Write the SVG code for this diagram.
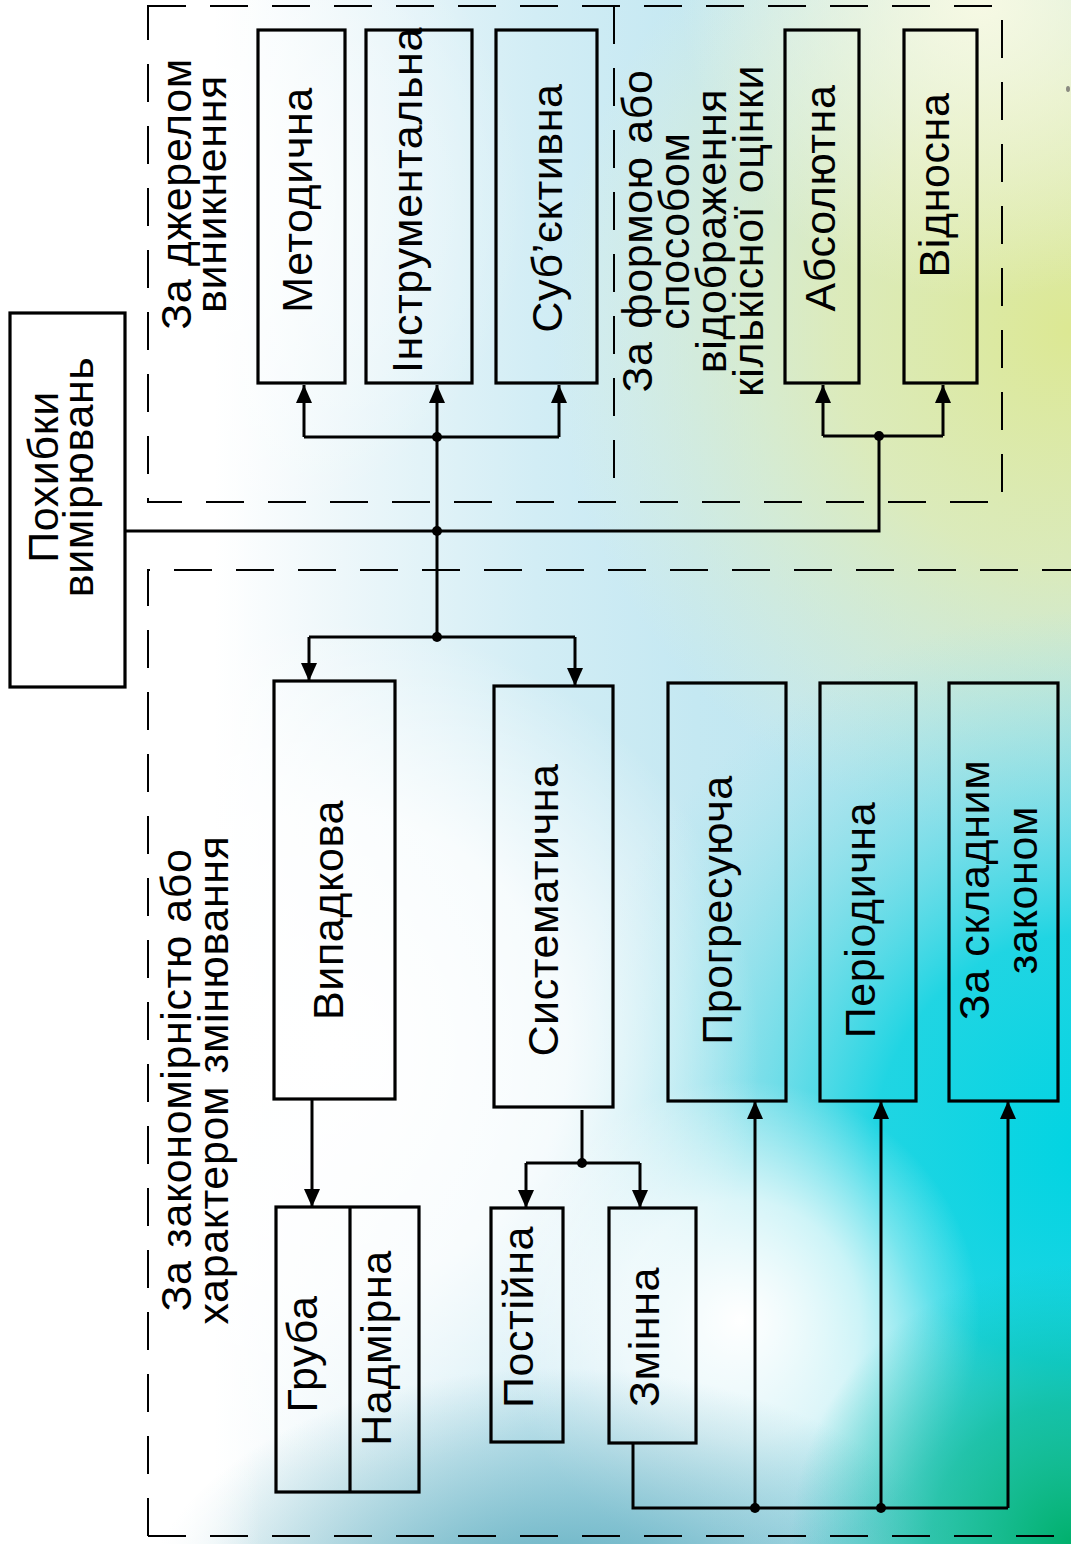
<svg xmlns="http://www.w3.org/2000/svg" width="1071" height="1544" viewBox="0 0 1071 1544">
  <defs>
    <style>
      .box { fill: none; stroke: #000; stroke-width: 3.2; }
      .wire { fill: none; stroke: #000; stroke-width: 3; }
      .arrow { fill: none; stroke: #000; stroke-width: 3; marker-end: url(#head); }
      .dash { fill: none; stroke: #000; stroke-width: 2; stroke-dasharray: 38 24; }
      .dot { fill: #000; }
      .lbl { font-family: "Liberation Sans", Arial, "Noto Sans", sans-serif; font-size: 43px; letter-spacing: 0.6px; fill: #000; }
    </style>
    <marker id="head" markerUnits="userSpaceOnUse" markerWidth="18" markerHeight="16" viewBox="0 0 18 16" refX="18" refY="8" orient="auto">
      <path d="M0,0 L18,8 L0,16 z" fill="#000"/>
    </marker>
    <linearGradient id="bgBase" x1="0" y1="0" x2="1071" y2="0" gradientUnits="userSpaceOnUse">
      <stop offset="0" stop-color="#ffffff"/>
      <stop offset="0.2" stop-color="#ffffff"/>
      <stop offset="0.32" stop-color="#edf7fa"/>
      <stop offset="0.5" stop-color="#d2edf5"/>
      <stop offset="0.65" stop-color="#c4e8f2"/>
      <stop offset="1" stop-color="#b6e3ed"/>
    </linearGradient>
    <radialGradient id="bgYellow" cx="1071" cy="330" r="520" gradientUnits="userSpaceOnUse">
      <stop offset="0" stop-color="#dce893" stop-opacity="1"/>
      <stop offset="0.45" stop-color="#e4ecac" stop-opacity="0.78"/>
      <stop offset="1" stop-color="#eef3c8" stop-opacity="0"/>
    </radialGradient>
    <radialGradient id="bgPale" cx="980" cy="0" r="300" gradientUnits="userSpaceOnUse">
      <stop offset="0" stop-color="#fbfbe6" stop-opacity="0.9"/>
      <stop offset="1" stop-color="#fbfbe6" stop-opacity="0"/>
    </radialGradient>
    <radialGradient id="bgCyan" cx="1090" cy="1150" r="540" gradientUnits="userSpaceOnUse">
      <stop offset="0" stop-color="#00d4e2" stop-opacity="1"/>
      <stop offset="0.4" stop-color="#18d4e2" stop-opacity="0.95"/>
      <stop offset="0.75" stop-color="#70dce6" stop-opacity="0.45"/>
      <stop offset="1" stop-color="#a0e4ec" stop-opacity="0"/>
    </radialGradient>
    <radialGradient id="bgWhiteL" cx="330" cy="1050" r="430" gradientUnits="userSpaceOnUse">
      <stop offset="0" stop-color="#ffffff" stop-opacity="1"/>
      <stop offset="0.55" stop-color="#ffffff" stop-opacity="0.8"/>
      <stop offset="1" stop-color="#ffffff" stop-opacity="0"/>
    </radialGradient>
    <radialGradient id="bgWhiteT" cx="200" cy="200" r="330" gradientUnits="userSpaceOnUse">
      <stop offset="0" stop-color="#ffffff" stop-opacity="0.85"/>
      <stop offset="1" stop-color="#ffffff" stop-opacity="0"/>
    </radialGradient>
    <radialGradient id="bgWhiteC" cx="740" cy="1320" r="240" gradientUnits="userSpaceOnUse">
      <stop offset="0" stop-color="#ffffff" stop-opacity="1"/>
      <stop offset="0.5" stop-color="#ffffff" stop-opacity="0.7"/>
      <stop offset="1" stop-color="#ffffff" stop-opacity="0"/>
    </radialGradient>
    <radialGradient id="bgTeal" cx="560" cy="1620" r="420" gradientTransform="translate(560 1620) scale(1 0.6) translate(-560 -1620)" gradientUnits="userSpaceOnUse">
      <stop offset="0" stop-color="#4aa2b6" stop-opacity="0.95"/>
      <stop offset="1" stop-color="#4aa2b6" stop-opacity="0"/>
    </radialGradient>
    <radialGradient id="bgGreen" cx="1071" cy="1544" r="280" gradientUnits="userSpaceOnUse">
      <stop offset="0" stop-color="#00b06c" stop-opacity="1"/>
      <stop offset="0.5" stop-color="#00b890" stop-opacity="0.7"/>
      <stop offset="1" stop-color="#00c0b0" stop-opacity="0"/>
    </radialGradient>
    <linearGradient id="bgLeft" x1="0" y1="0" x2="260" y2="0" gradientUnits="userSpaceOnUse">
      <stop offset="0" stop-color="#ffffff" stop-opacity="1"/>
      <stop offset="0.55" stop-color="#ffffff" stop-opacity="0.9"/>
      <stop offset="1" stop-color="#ffffff" stop-opacity="0"/>
    </linearGradient>
  </defs>

  <!-- background wash -->
  <g id="background">
    <rect x="0" y="0" width="1071" height="1544" fill="url(#bgBase)"/>
    <rect x="0" y="0" width="1071" height="1544" fill="url(#bgYellow)"/>
    <rect x="0" y="0" width="1071" height="1544" fill="url(#bgPale)"/>
    <rect x="0" y="0" width="1071" height="1544" fill="url(#bgCyan)"/>
    <rect x="0" y="0" width="1071" height="1544" fill="url(#bgWhiteL)"/>
    <rect x="0" y="0" width="1071" height="1544" fill="url(#bgWhiteT)"/>
    <rect x="0" y="0" width="1071" height="1544" fill="url(#bgWhiteC)"/>
    <rect x="0" y="0" width="1071" height="1544" fill="url(#bgTeal)"/>
    <rect x="0" y="0" width="1071" height="1544" fill="url(#bgGreen)"/>
    <rect x="0" y="0" width="1071" height="1544" fill="url(#bgLeft)"/>
    <ellipse cx="1068" cy="89" rx="2" ry="3" fill="#8a8a80"/>
  </g>

  <!-- dashed grouping frames and their captions -->
  <g id="frames">
    <rect class="dash" x="148" y="6" width="854" height="496"/>
    <line class="dash" x1="614" y1="6" x2="614" y2="502"/>
    <path class="dash" d="M1080,570 H148 V1540 M148,1536 H1080"/>
    <text class="lbl" transform="translate(191,194) rotate(-90)" text-anchor="middle">За джерелом<tspan x="0" dy="35">виникнення</tspan></text>
    <text class="lbl" transform="translate(652,231) rotate(-90)" text-anchor="middle">За формою або<tspan x="0" dy="37">способом</tspan><tspan x="0" dy="37">відображення</tspan><tspan x="0" dy="37">кількісної оцінки</tspan></text>
    <text class="lbl" transform="translate(191,1080) rotate(-90)" text-anchor="middle">За закономірністю або<tspan x="0" dy="37">характером змінювання</tspan></text>
  </g>

  <!-- connectors -->
  <g id="connectors">
    <path class="wire" d="M125,531 H879 V436"/>
    <path class="wire" d="M437,437 V637"/>
    <path class="wire" d="M304,437 H559"/>
    <path class="arrow" d="M304,437 V385"/>
    <path class="arrow" d="M437,437 V385"/>
    <path class="arrow" d="M559,437 V385"/>
    <path class="wire" d="M823,436 H943"/>
    <path class="arrow" d="M823,436 V385"/>
    <path class="arrow" d="M943,436 V385"/>
    <path class="wire" d="M309,637 H575"/>
    <path class="arrow" d="M309,637 V681"/>
    <path class="arrow" d="M575,637 V686"/>
    <path class="arrow" d="M312,1099 V1207"/>
    <path class="wire" d="M582,1110 V1163"/>
    <path class="wire" d="M526,1163 H640"/>
    <path class="arrow" d="M526,1163 V1208"/>
    <path class="arrow" d="M640,1163 V1208"/>
    <path class="wire" d="M633,1443 V1508 H1008"/>
    <path class="arrow" d="M755,1508 V1101"/>
    <path class="arrow" d="M881,1508 V1101"/>
    <path class="arrow" d="M1008,1508 V1101"/>
    <circle class="dot" cx="437" cy="437" r="5"/>
    <circle class="dot" cx="437" cy="531" r="5"/>
    <circle class="dot" cx="437" cy="637" r="5"/>
    <circle class="dot" cx="879" cy="436" r="5"/>
    <circle class="dot" cx="582" cy="1163" r="5"/>
    <circle class="dot" cx="755" cy="1508" r="5"/>
    <circle class="dot" cx="881" cy="1508" r="5"/>
  </g>

  <!-- nodes -->
  <g id="node-root">
    <rect class="box" x="10" y="313" width="115" height="374"/>
    <text class="lbl" transform="translate(58,477) rotate(-90)" text-anchor="middle">Похибки<tspan x="0" dy="35">вимірювань</tspan></text>
  </g>
  <g id="node-metodychna">
    <rect class="box" x="258" y="30" width="87" height="353"/>
    <text class="lbl" transform="translate(312,200) rotate(-90)" text-anchor="middle">Методична</text>
  </g>
  <g id="node-instrumentalna">
    <rect class="box" x="366" y="30" width="106" height="353"/>
    <text class="lbl" transform="translate(422,200) rotate(-90)" text-anchor="middle">Інструментальна</text>
  </g>
  <g id="node-subiektyvna">
    <rect class="box" x="496" y="30" width="101" height="353"/>
    <text class="lbl" transform="translate(562,208) rotate(-90)" text-anchor="middle">Суб’єктивна</text>
  </g>
  <g id="node-absoliutna">
    <rect class="box" x="785" y="30" width="74" height="353"/>
    <text class="lbl" transform="translate(835,198) rotate(-90)" text-anchor="middle">Абсолютна</text>
  </g>
  <g id="node-vidnosna">
    <rect class="box" x="904" y="30" width="73" height="353"/>
    <text class="lbl" transform="translate(949,185) rotate(-90)" text-anchor="middle">Відносна</text>
  </g>
  <g id="node-vypadkova">
    <rect class="box" x="274" y="681" width="121" height="418"/>
    <text class="lbl" transform="translate(343,910) rotate(-90)" text-anchor="middle">Випадкова</text>
  </g>
  <g id="node-systematychna">
    <rect class="box" x="494" y="686" width="119" height="421"/>
    <text class="lbl" transform="translate(558,910) rotate(-90)" text-anchor="middle">Систематична</text>
  </g>
  <g id="node-prohresuiucha">
    <rect class="box" x="668" y="683" width="118" height="418"/>
    <text class="lbl" transform="translate(732,910) rotate(-90)" text-anchor="middle">Прогресуюча</text>
  </g>
  <g id="node-periodychna">
    <rect class="box" x="820" y="683" width="96" height="418"/>
    <text class="lbl" transform="translate(875,920) rotate(-90)" text-anchor="middle">Періодична</text>
  </g>
  <g id="node-skladnyi">
    <rect class="box" x="949" y="683" width="109" height="418"/>
    <text class="lbl" transform="translate(989,890) rotate(-90)" text-anchor="middle">За складним<tspan x="0" dy="48">законом</tspan></text>
  </g>
  <g id="node-gruba-nadmirna">
    <rect class="box" x="276" y="1207" width="143" height="285"/>
    <line class="box" x1="350" y1="1207" x2="350" y2="1492"/>
    <text class="lbl" transform="translate(317,1354) rotate(-90)" text-anchor="middle">Груба</text>
    <text class="lbl" transform="translate(391,1348) rotate(-90)" text-anchor="middle">Надмірна</text>
  </g>
  <g id="node-postiina">
    <rect class="box" x="491" y="1208" width="72" height="234"/>
    <text class="lbl" transform="translate(533,1317) rotate(-90)" text-anchor="middle">Постійна</text>
  </g>
  <g id="node-zminna">
    <rect class="box" x="609" y="1208" width="87" height="235"/>
    <text class="lbl" transform="translate(659,1337) rotate(-90)" text-anchor="middle">Змінна</text>
  </g>
</svg>
